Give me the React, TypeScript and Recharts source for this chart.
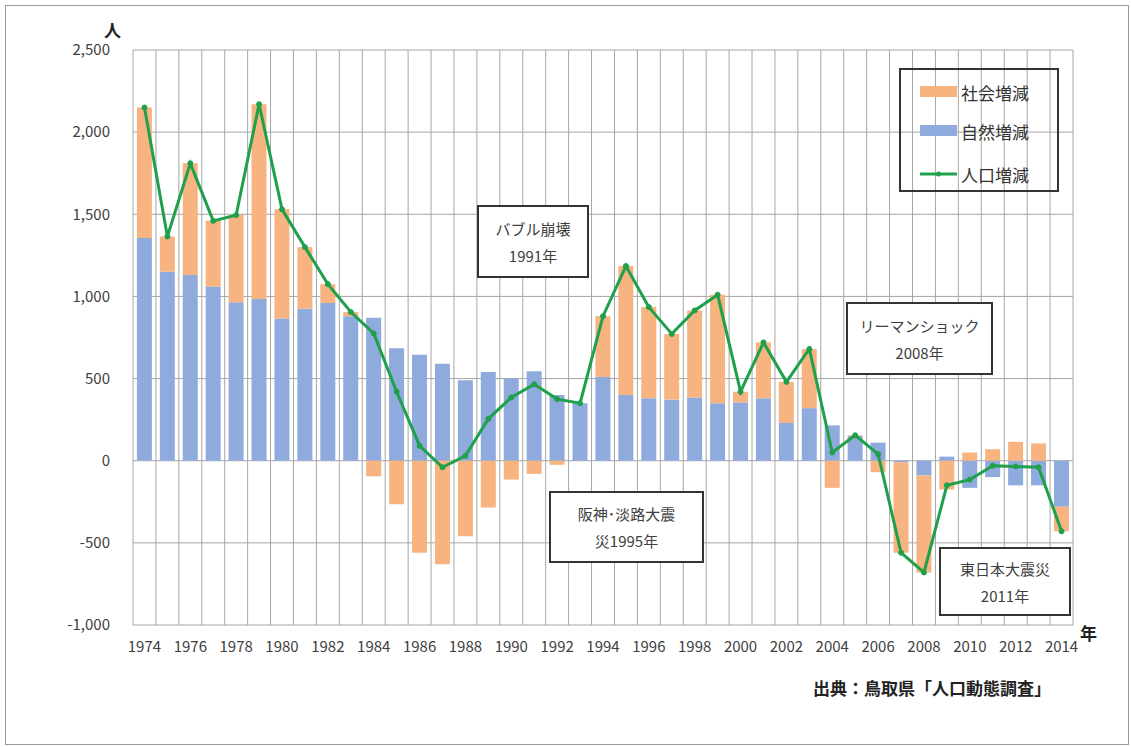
import React from 'react';
import { ComposedChart, Bar, Line, XAxis, YAxis, CartesianGrid } from 'recharts';

const years = [
  1974, 1975, 1976, 1977, 1978, 1979, 1980, 1981, 1982, 1983,
  1984, 1985, 1986, 1987, 1988, 1989, 1990, 1991, 1992, 1993,
  1994, 1995, 1996, 1997, 1998, 1999, 2000, 2001, 2002, 2003,
  2004, 2005, 2006, 2007, 2008, 2009, 2010, 2011, 2012, 2013, 2014,
];

// 自然増減
const naturalChange = [
  1355, 1150, 1130, 1060, 965, 985, 865, 925, 960, 880,
  870, 685, 645, 590, 490, 540, 500, 545, 400, 350,
  510, 400, 380, 372, 385, 350, 355, 380, 230, 320,
  215, 150, 110, -10, -90, 25, -165, -100, -150, -150, -280,
];

// 社会増減
const socialChange = [
  795, 215, 680, 400, 530, 1185, 665, 375, 115, 25,
  -95, -265, -560, -630, -460, -285, -115, -80, -25, 0,
  370, 785, 555, 400, 530, 660, 65, 340, 250, 360,
  -165, 5, -70, -550, -590, -175, 50, 70, 115, 105, -150,
];

// 人口増減
const totalChange = [
  2150, 1365, 1810, 1460, 1495, 2170, 1530, 1300, 1075, 905,
  775, 420, 90, -40, 30, 255, 385, 465, 375, 350,
  880, 1185, 935, 772, 915, 1010, 420, 720, 480, 680,
  50, 155, 40, -560, -680, -150, -115, -30, -35, -40, -430,
];

const yTicks = [-1000, -500, 0, 500, 1000, 1500, 2000, 2500];

const seriesNames = { social: '社会増減', natural: '自然増減', total: '人口増減' };

const annotations = [
  { lines: ['バブル崩壊', '1991年'], left: 477, top: 205, width: 112, height: 73 },
  { lines: ['阪神･淡路大震', '災1995年'], left: 549, top: 491, width: 155, height: 72 },
  { lines: ['リーマンショック', '2008年'], left: 846, top: 302, width: 147, height: 73 },
  { lines: ['東日本大震災', '2011年'], left: 939, top: 547, width: 132, height: 69 },
];

const data = years.map((y, i) => ({
  year: String(y),
  natural: naturalChange[i],
  social: socialChange[i],
  total: totalChange[i],
}));

const ORANGE = '#F7B380';
const BLUE = '#8FAADC';
const GREEN = '#1FA04A';
const GRID = '#A6A6A6';
const FONT = '"Noto Sans CJK JP", "Noto Sans", sans-serif';

const fmt = (v: number) => v.toLocaleString('en-US');

export default function App() {
  return (
    <div style={{ position: 'absolute', left: 0, top: 0, width: 1131, height: 747, background: '#fff', fontFamily: FONT }}>
      <div style={{ position: 'absolute', left: 5, top: 5, width: 1124, height: 740, border: '1px solid #9a9a9a', boxSizing: 'border-box' }} />
      <div style={{ position: 'absolute', left: 0, top: 0 }}>
        <ComposedChart
          width={1131}
          height={747}
          data={data}
          stackOffset="sign"
          barCategoryGap="17%"
          margin={{ top: 50, right: 58, bottom: 92, left: 0 }}
        >
          <CartesianGrid
            stroke={GRID}
            strokeWidth={1}
            verticalCoordinatesGenerator={({ offset }: any) =>
              Array.from({ length: years.length + 1 }, (_, i) => offset.left + (i * offset.width) / years.length)
            }
          />
          <XAxis
            dataKey="year"
            interval={1}
            height={30}
            axisLine={false}
            tickLine={false}
            tickSize={0}
            tickMargin={16}
            tick={{ fontSize: 15, fill: '#404040', fontFamily: FONT }}
          />
          <YAxis
            width={133}
            domain={[-1000, 2500]}
            ticks={yTicks}
            interval={0}
            axisLine={false}
            tickLine={false}
            tickSize={0}
            tickMargin={23}
            tickFormatter={fmt}
            tick={{ fontSize: 15, fill: '#404040', fontFamily: FONT }}
          />
          <Bar dataKey="natural" name={seriesNames.natural} stackId="a" fill={BLUE} isAnimationActive={false} />
          <Bar dataKey="social" name={seriesNames.social} stackId="a" fill={ORANGE} isAnimationActive={false} />
          <Line
            dataKey="total"
            name={seriesNames.total}
            type="linear"
            stroke={GREEN}
            strokeWidth={3}
            dot={{ r: 2.5, fill: GREEN, stroke: GREEN, strokeWidth: 1 }}
            isAnimationActive={false}
          />
        </ComposedChart>
      </div>

      {/* axis unit labels */}
      <div style={{ position: 'absolute', left: 104, top: 19, fontSize: 17, fontWeight: 'bold', color: '#222', lineHeight: '22px' }}>人</div>
      <div style={{ position: 'absolute', left: 1080, top: 622, fontSize: 17, fontWeight: 'bold', color: '#222', lineHeight: '22px' }}>年</div>

      {/* source */}
      <div style={{ position: 'absolute', left: 813, top: 677, fontSize: 17, fontWeight: 'bold', color: '#222', lineHeight: '22px', whiteSpace: 'nowrap' }}>
        出典：鳥取県「人口動態調査」
      </div>

      {/* legend */}
      <div style={{ position: 'absolute', left: 899, top: 68, width: 160, height: 124, border: '2px solid #333', boxSizing: 'border-box' }}>
        {[
          { name: seriesNames.social, kind: 'bar', color: ORANGE, cy: 22 },
          { name: seriesNames.natural, kind: 'bar', color: BLUE, cy: 61 },
          { name: seriesNames.total, kind: 'line', color: GREEN, cy: 104 },
        ].map((e) => (
          <div key={e.name} style={{ position: 'absolute', left: 19, top: e.cy - 12, height: 24, display: 'flex', alignItems: 'center' }}>
            <svg width={38} height={24} style={{ display: 'block' }}>
              {e.kind === 'bar' ? (
                <rect x={0} y={6} width={37} height={11} fill={e.color} />
              ) : (
                <g>
                  <line x1={0} y1={12} x2={37} y2={12} stroke={e.color} strokeWidth={3} />
                  <circle cx={18.5} cy={12} r={2.5} fill={e.color} />
                </g>
              )}
            </svg>
            <span style={{ fontSize: 17, color: '#333', marginLeft: 3, whiteSpace: 'nowrap' }}>{e.name}</span>
          </div>
        ))}
      </div>

      {/* annotation boxes */}
      {annotations.map((a) => (
        <div
          key={a.lines[0]}
          style={{
            position: 'absolute',
            left: a.left,
            top: a.top,
            width: a.width,
            height: a.height,
            border: '2px solid #333',
            background: '#fff',
            boxSizing: 'border-box',
            display: 'flex',
            flexDirection: 'column',
            alignItems: 'center',
            justifyContent: 'center',
            fontSize: 15,
            lineHeight: '27px',
            color: '#404040',
          }}
        >
          {a.lines.map((l) => (
            <div key={l} style={{ whiteSpace: 'nowrap' }}>{l}</div>
          ))}
        </div>
      ))}
    </div>
  );
}
